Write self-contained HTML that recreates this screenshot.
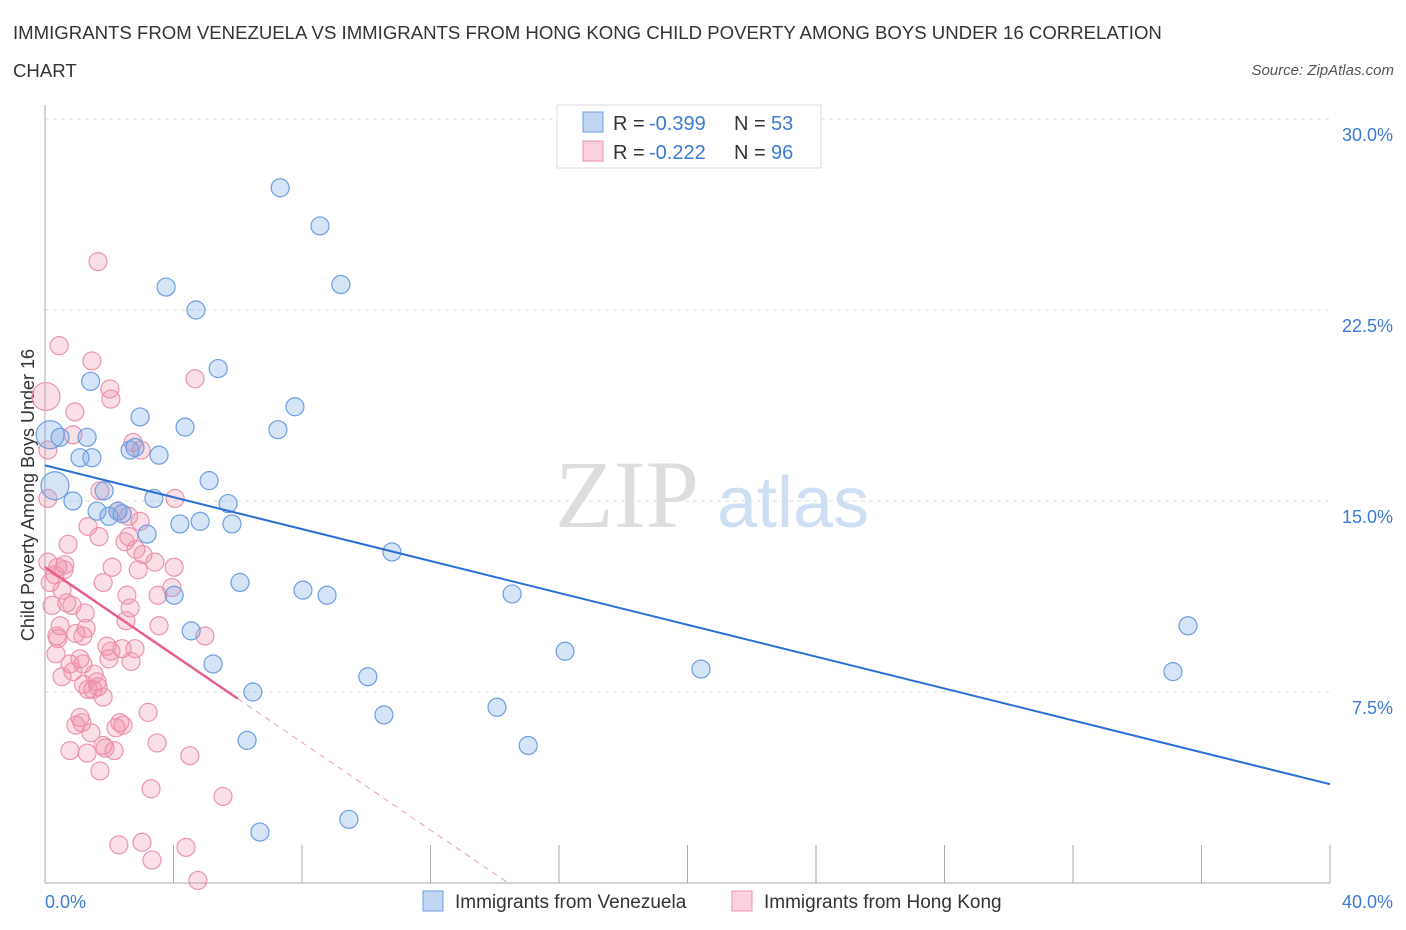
<!DOCTYPE html>
<html><head><meta charset="utf-8">
<style>
body{margin:0;background:#fff;font-family:"Liberation Sans",sans-serif;}
#wrap{position:relative;width:1406px;height:930px;overflow:hidden;}
.title{position:absolute;left:13px;top:14px;font-size:18.6px;color:#333;line-height:38px;width:1180px;}
.src{position:absolute;right:12px;top:62px;font-size:15px;font-style:italic;color:#555;}
</style></head><body>
<div id="wrap">
<div class="title">IMMIGRANTS FROM VENEZUELA VS IMMIGRANTS FROM HONG KONG CHILD POVERTY AMONG BOYS UNDER 16 CORRELATION CHART</div>
<div class="src">Source: ZipAtlas.com</div>
<svg id="svg" width="1406" height="930" style="position:absolute;left:0;top:0"></svg>
</div>
<script>
const blueX=[7.32,8.56,3.77,9.21,4.70,5.39,1.42,7.78,2.96,4.36,7.25,0.16,0.47,1.31,2.65,2.80,3.55,1.09,1.46,0.31,5.11,3.39,0.87,1.84,5.70,1.62,2.27,2.40,1.99,4.83,4.20,5.82,3.18,10.8,6.07,8.03,4.02,8.78,14.54,35.58,4.55,16.19,5.23,20.42,35.11,10.05,6.47,10.55,14.07,6.29,15.04,6.69,9.46];
const blueY=[27.3,25.8,23.4,23.5,22.5,20.2,19.7,18.7,18.3,17.9,17.8,17.6,17.5,17.5,17.0,17.1,16.8,16.7,16.7,15.6,15.8,15.1,15.0,15.4,14.9,14.6,14.6,14.5,14.4,14.2,14.1,14.1,13.7,13.0,11.8,11.5,11.3,11.3,11.35,10.1,9.9,9.1,8.6,8.4,8.3,8.1,7.5,6.6,6.9,5.6,5.4,2.0,2.5];
const blueBig=[11,19];
const pinkX=[1.65,0.44,1.46,4.67,2.02,0.03,2.05,0.93,0.87,2.74,2.99,0.09,1.71,4.05,0.09,2.27,2.96,1.34,1.68,2.61,0.72,2.49,3.05,3.42,0.09,0.62,0.40,2.09,4.02,2.90,0.31,0.16,1.81,3.95,0.53,2.55,3.52,0.68,0.84,0.22,2.65,1.25,2.52,0.47,3.55,1.28,0.96,4.98,0.37,1.18,1.93,2.05,2.40,2.80,0.34,1.09,1.99,2.68,0.78,1.18,0.53,0.87,1.53,1.62,1.49,1.34,1.65,1.81,3.21,1.09,1.15,0.96,2.43,2.21,1.43,3.49,1.81,0.78,1.31,2.15,1.87,4.51,1.71,3.30,5.54,2.30,3.02,4.39,3.33,4.76,2.33,0.40,2.83,0.59,1.20,2.60];
const pinkY=[24.4,21.1,20.5,19.8,19.4,19.1,19.0,18.5,17.6,17.3,17.0,17.0,15.4,15.1,15.1,14.6,14.2,14.0,13.6,13.6,13.3,13.4,12.9,12.6,12.6,12.5,12.4,12.4,12.4,12.3,12.1,11.8,11.8,11.6,11.5,11.3,11.3,11.0,10.9,10.9,10.8,10.6,10.3,10.1,10.1,10.0,9.8,9.7,9.7,9.7,9.3,9.1,9.2,9.2,9.0,8.8,8.8,8.7,8.6,8.6,8.1,8.3,8.2,7.9,7.6,7.6,7.7,7.3,6.7,6.5,6.3,6.2,6.2,6.1,5.9,5.5,5.4,5.2,5.1,5.2,5.3,5.0,4.4,3.7,3.4,1.5,1.6,1.4,0.9,0.1,6.3,9.6,13.1,12.3,7.8,14.4];
const pinkBig=[5];
const blueLine=[16.4,-0.313];
const pinkLine=[12.4,-0.86];
const pinkSolidEnd=6.0;
const yTicks=[7.5,15,22.5,30];
const yTickLabels=["7.5%","15.0%","22.5%","30.0%"];
const xTickVals=[0,4,8,12,16,20,24,28,32,36,40];

const NS="http://www.w3.org/2000/svg",svg=document.getElementById('svg');
const X=v=>45+v/40*1285, Y=v=>883-v/30*764;
function mk(t,a,p){const e=document.createElementNS(NS,t);for(const k in a)e.setAttribute(k,a[k]);(p||svg).appendChild(e);return e;}
yTicks.forEach((t,i)=>{
 const g=mk('line',{x1:45,x2:1330,y1:Y(t),y2:Y(t),stroke:'#ddd','stroke-dasharray':'4,4'});
 
 
 const tx=mk('text',{x:1393,y:Y(t)+22,'text-anchor':'end','font-size':18,fill:'#3b7bd4','font-family':'Liberation Sans'});
 tx.textContent=yTickLabels[i];
 
 
});
const ax=mk('line',{x1:45,x2:45,y1:105,y2:883,stroke:'#aaa'});


const bx=mk('line',{x1:45,x2:1330,y1:883,y2:883,stroke:'#aaa'});


xTickVals.forEach(v=>{const t=mk('line',{x1:X(v),x2:X(v),y1:845,y2:883,stroke:'#aaa'});
 
 });
[["0.0%",45,'start'],["40.0%",1393,'end']].forEach(a=>{const t=mk('text',{x:a[1],y:908,'text-anchor':a[2],'font-size':18,fill:'#3b7bd4','font-family':'Liberation Sans'});t.textContent=a[0];
 
 });
const yt=mk('text',{x:0,y:0,transform:'translate(34,495) rotate(-90)','text-anchor':'middle','font-size':18,fill:'#333','font-family':'Liberation Sans'});
yt.textContent='Child Poverty Among Boys Under 16';


const wm=mk('text',{x:555,y:527,'font-size':96,fill:'#ddd','font-family':'Liberation Serif'});wm.textContent='ZIP';


const wm2=mk('text',{x:717,y:527,'font-size':72,fill:'#cfdff3','font-family':'Liberation Sans'});wm2.textContent='atlas';


pinkX.forEach((x,i)=>{const c=mk('circle',{cx:X(x),cy:Y(pinkY[i]),r:pinkBig.includes(i)?14:9,fill:'rgba(242,140,168,0.28)',stroke:'#eb94ae','stroke-width':1.2});
 
 });
blueX.forEach((x,i)=>{const c=mk('circle',{cx:X(x),cy:Y(blueY[i]),r:blueBig.includes(i)?14:9,fill:'rgba(120,165,230,0.3)',stroke:'#6e9de0','stroke-width':1.2});
 
 });
const bl=mk('line',{x1:X(0),y1:Y(blueLine[0]),x2:X(40),y2:Y(blueLine[0]+blueLine[1]*40),stroke:'#2a6fd4','stroke-width':2});


const pz=-pinkLine[0]/pinkLine[1];
const pd=mk('line',{x1:X(pinkSolidEnd),y1:Y(pinkLine[0]+pinkLine[1]*pinkSolidEnd),x2:X(pz),y2:Y(0),stroke:'#e8a0b5','stroke-width':1,'stroke-dasharray':'6,5'});


const pl=mk('line',{x1:X(0),y1:Y(pinkLine[0]),x2:X(pinkSolidEnd),y2:Y(pinkLine[0]+pinkLine[1]*pinkSolidEnd),stroke:'#e8608a','stroke-width':2.5});


const lg=mk('g',{});


mk('rect',{x:557,y:105,width:264,height:63,fill:'#fff',stroke:'#ddd'},lg);
[[122,'rgba(120,165,230,0.45)','#6e9de0','-0.399','53'],[151,'rgba(242,140,168,0.4)','#eb94ae','-0.222','96']].forEach(r=>{
 mk('rect',{x:583,y:r[0]-10,width:20,height:20,fill:r[1],stroke:r[2]},lg);
 const a=mk('text',{x:613,y:r[0]+8,'font-size':20,fill:'#333','font-family':'Liberation Sans'},lg);a.textContent='R =';
 const b=mk('text',{x:649,y:r[0]+8,'font-size':20,fill:'#3b7bd4','font-family':'Liberation Sans'},lg);b.textContent=r[3];
 const c=mk('text',{x:734,y:r[0]+8,'font-size':20,fill:'#333','font-family':'Liberation Sans'},lg);c.textContent='N =';
 const d=mk('text',{x:771,y:r[0]+8,'font-size':20,fill:'#3b7bd4','font-family':'Liberation Sans'},lg);d.textContent=r[4];
});
[[423,'rgba(120,165,230,0.45)','#6e9de0','Immigrants from Venezuela','legend-venezuela'],[732,'rgba(242,140,168,0.4)','#eb94ae','Immigrants from Hong Kong','legend-hong-kong']].forEach(r=>{
 const g=mk('g',{});
 
 
 mk('rect',{x:r[0],y:891,width:20,height:20,fill:r[1],stroke:r[2]},g);
 const t=mk('text',{x:r[0]+32,y:908,'font-size':19,fill:'#333','font-family':'Liberation Sans'},g);t.textContent=r[3];
});
</script>
</body></html>
